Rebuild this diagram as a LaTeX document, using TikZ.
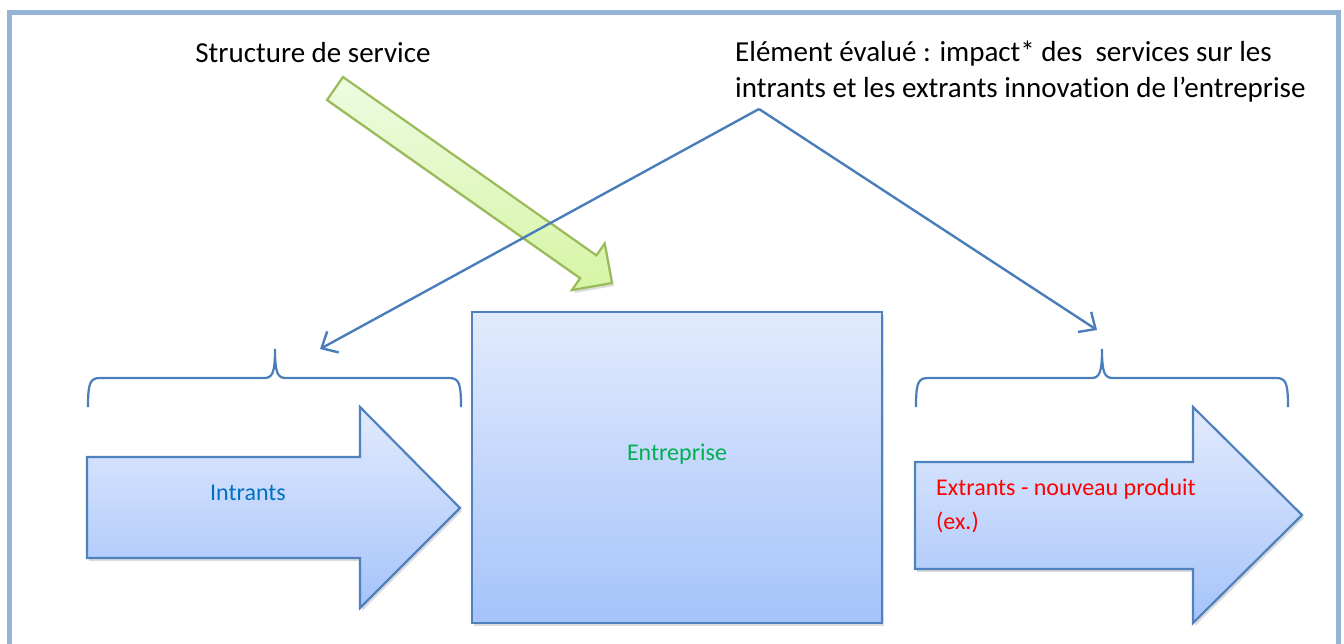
\documentclass[tikz,border=0pt]{standalone}
\usepackage{fontspec}
\setmainfont[Ligatures=NoCommon]{Carlito}
\usetikzlibrary{arrows.meta,shadows}
\definecolor{framec}{RGB}{149,179,215}
\definecolor{bluestroke}{RGB}{79,129,189}
\definecolor{linec}{RGB}{74,126,187}
\definecolor{bluetop}{RGB}{226,235,253}
\definecolor{bluebot}{RGB}{165,195,250}
\definecolor{greenstroke}{RGB}{155,187,89}
\definecolor{greentop}{RGB}{238,251,226}
\definecolor{greenbot}{RGB}{214,245,165}
\definecolor{entgreen}{RGB}{0,176,80}
\definecolor{intblue}{RGB}{0,112,192}
\definecolor{extred}{RGB}{255,0,0}
\tikzset{
  shapeshadow/.style={drop shadow={opacity=0.28,shadow xshift=2pt,shadow yshift=-3pt}},
  bluebox/.style={draw=bluestroke,line width=2.2pt,top color=bluetop,bottom color=bluebot,shapeshadow},
  greenarrow/.style={draw=greenstroke,line width=2.2pt,top color=greentop,bottom color=greenbot,shapeshadow},
  bracec/.style={draw=linec,line width=2.2pt},
  conn/.style={draw=linec,line width=2.4pt,-{Straight Barb[length=13pt,width=24pt,line width=2.4pt]}},
  bigtext/.style={font=\fontsize{29}{36}\selectfont,text=black},
  smalltext/.style={font=\fontsize{24}{34}\selectfont}
}
\begin{document}
\begin{tikzpicture}[x=1pt,y=-1pt]
\useasboundingbox (0,0) rectangle (1344,643);
% frame
\draw[framec,line width=5pt] (9.5,12.5) rectangle (1338.5,670);

% titles
\node (struct) [bigtext,anchor=base] at (313,62) {Structure de service};
\node (elem) [bigtext,anchor=base west,inner sep=0pt] at (735,61) {Elément évalué : impact* des\ \ services sur les};
\node (elem2) [bigtext,anchor=base west,inner sep=0pt] at (735,97) {intrants et les extrants innovation de l’entreprise};

% green arrow
\path[greenarrow] (327,100) -- (343,77) -- (596.4,255.4) -- (604.7,243.5) -- (612,283) -- (571.9,290.1) -- (580.2,278.2) -- cycle;

% Entreprise
\node (ent) [bluebox,minimum width=410pt,minimum height=311pt,inner sep=0pt] at (677,467.5) {};
\node (entlbl) [smalltext,text=entgreen,anchor=base] at (677,460) {Entreprise};

% Intrants arrow
\path[bluebox] (87,457) -- (360,457) -- (360,407) -- (460,508) -- (360,608) -- (360,558) -- (87,558) -- cycle;
\node (intlbl) [smalltext,text=intblue,anchor=base] at (248,500) {Intrants};

% Extrants arrow
\path[bluebox] (915,462) -- (1193,462) -- (1193,407) -- (1302,515) -- (1193,623) -- (1193,569) -- (915,569) -- cycle;
\node (extlbl) [smalltext,text=extred,anchor=base west,inner sep=0pt] at (936,495) {Extrants - nouveau produit};
\node (extlbl2) [smalltext,text=extred,anchor=base west,inner sep=0pt] at (936,529) {(ex.)};

% braces
\path[bracec] (88,407) .. controls (88,383) and (90,378) .. (100,378) -- (264,378)
  .. controls (272,378) and (275,374) .. (275,349)
  .. controls (275,374) and (278,378) .. (286,378) -- (449,378)
  .. controls (459,378) and (461,383) .. (461,407);
\path[bracec] (916,407) .. controls (916,383) and (918,378) .. (928,378) -- (1091,378)
  .. controls (1099,378) and (1102,374) .. (1102,349)
  .. controls (1102,374) and (1105,378) .. (1113,378) -- (1276,378)
  .. controls (1286,378) and (1288,383) .. (1288,407);

% connectors
\coordinate (apex) at (759,109);
\coordinate (inttarget) at (320,349);
\coordinate (exttarget) at (1097,330);
\draw[conn] (apex) -- (inttarget);
\draw[conn] (apex) -- (exttarget);
\end{tikzpicture}
\end{document}
